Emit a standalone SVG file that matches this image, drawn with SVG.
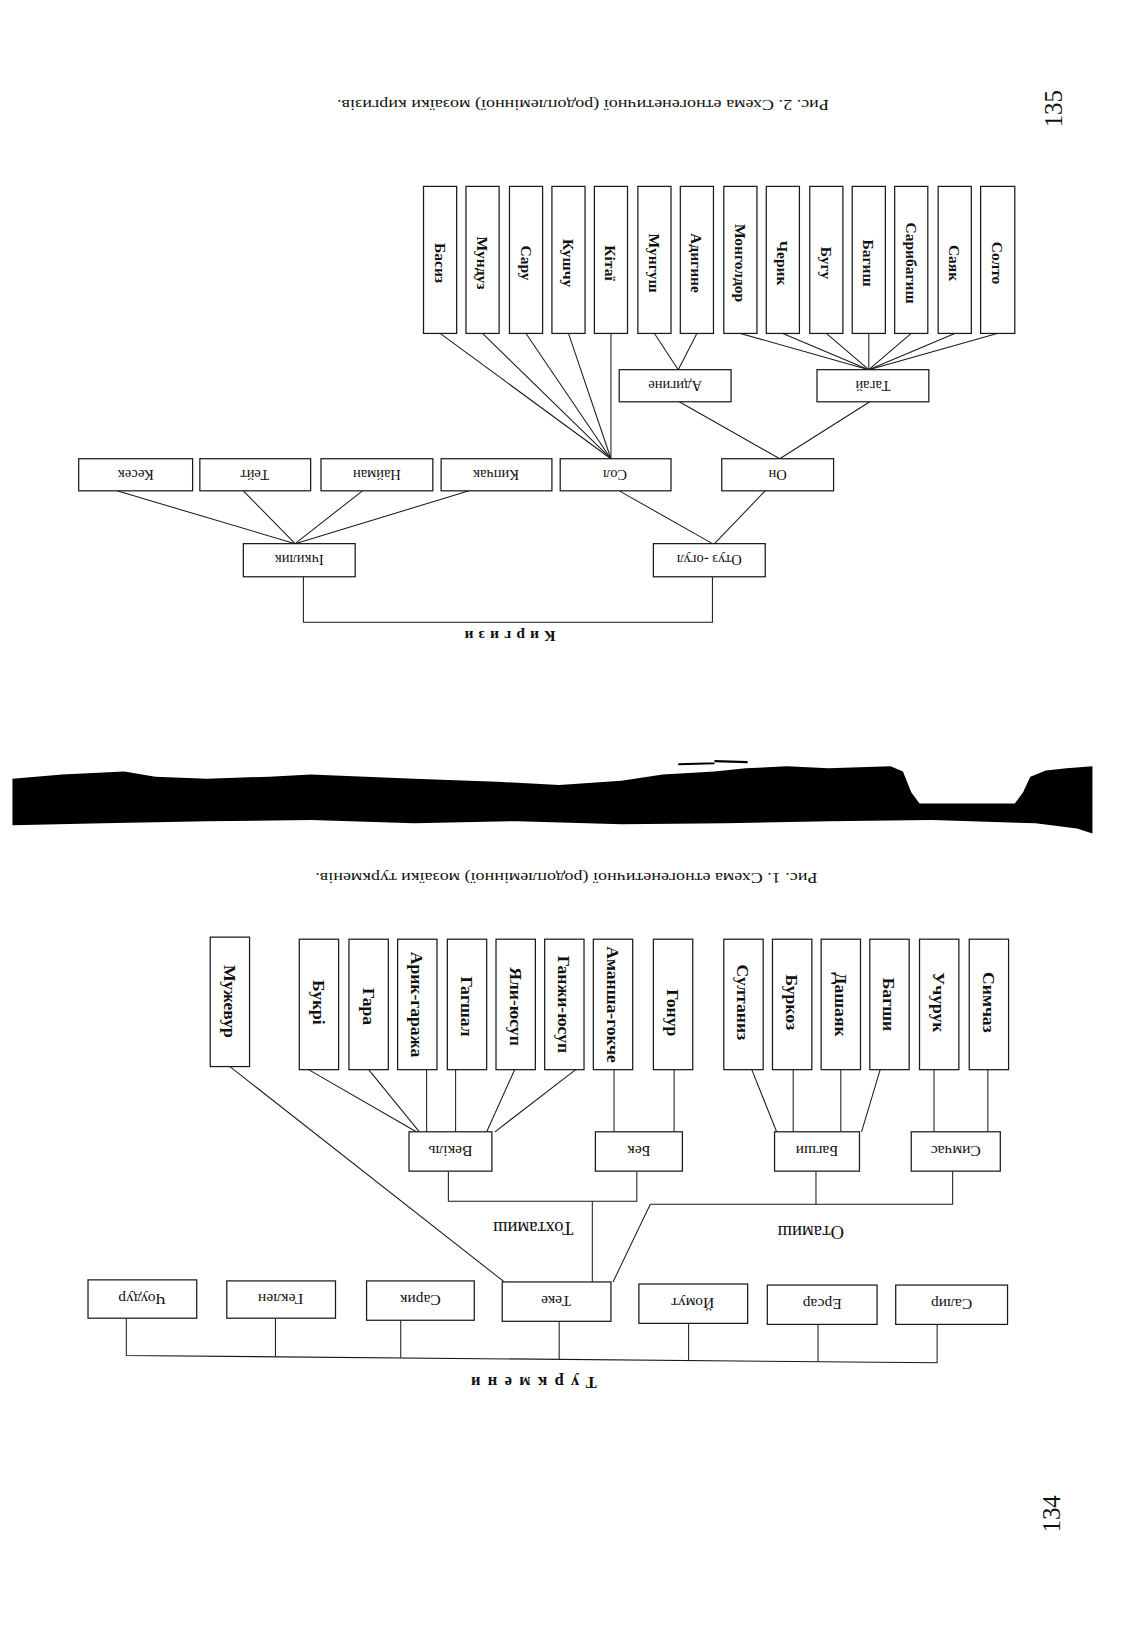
<svg xmlns="http://www.w3.org/2000/svg" width="1127" height="1626" viewBox="0 0 1127 1626">
<style>
.bx{fill:#fff;stroke:#1a1a1a;stroke-width:1.2}
.ln{fill:none;stroke:#1a1a1a;stroke-width:1}
.t{font-family:"Liberation Serif","Times New Roman",serif;fill:#111;text-anchor:middle;dominant-baseline:central}
.h2{font-size:14px}
.v2{font-size:15px;font-weight:bold}
.h1{font-size:15px}
.v1{font-size:17px;font-weight:bold}
.cap{font-size:15px}
.pg{font-size:24px}
</style>
<rect width="1127" height="1626" fill="#fff"/>
<g transform="scale(1.0355)">

<!-- page numbers and captions -->
<text class="t pg" transform="translate(1017,105) rotate(-90)">135</text>
<text class="t pg" transform="translate(1015,1462) rotate(-90)">134</text>
<text class="t cap" transform="translate(563,102) rotate(180)" textLength="475" lengthAdjust="spacingAndGlyphs">Рис. 2. Схема етногенетичної (родоплемінної) мозаїки киргизів.</text>
<text class="t cap" transform="translate(547,848) rotate(180)" textLength="485" lengthAdjust="spacingAndGlyphs">Рис. 1. Схема етногенетичної (родоплемінної) мозаїки туркменів.</text>

<!-- torn black band -->
<path d="M12,752 L60,748 L120,745 L150,750 L200,752 L260,750 L300,748 L400,752 L480,755 L540,758 L600,754 L640,748 L690,745 L720,742 L760,740 L800,742 L860,740 L872,745 L880,765 L888,776 L980,776 L988,765 L995,750 L1010,744 L1030,742 L1055,740 L1055,805 L1040,800 L1000,795 L900,792 L800,793 L700,795 L600,796 L500,793 L400,795 L300,792 L200,793 L100,795 L12,797 Z" fill="#000"/>
<path d="M655,738 L690,737 M690,735 L722,736" stroke="#000" stroke-width="2"/>

<!-- ===== Fig 2 connectors ===== -->
<g id="connectors-fig2" class="ln">
<line x1="425" y1="322" x2="590" y2="443"/>
<line x1="466" y1="322" x2="590" y2="443"/>
<line x1="508" y1="322" x2="590" y2="443"/>
<line x1="549" y1="322" x2="590" y2="443"/>
<line x1="590" y1="322" x2="590" y2="443"/>
<line x1="632" y1="322" x2="655" y2="357"/>
<line x1="673" y1="322" x2="655" y2="357"/>
<line x1="715" y1="322" x2="839" y2="357"/>
<line x1="756" y1="322" x2="839" y2="357"/>
<line x1="798" y1="322" x2="839" y2="357"/>
<line x1="839" y1="322" x2="839" y2="357"/>
<line x1="880" y1="322" x2="839" y2="357"/>
<line x1="922" y1="322" x2="839" y2="357"/>
<line x1="963" y1="322" x2="839" y2="357"/>
<line x1="656" y1="388" x2="753" y2="443"/>
<line x1="840" y1="388" x2="753" y2="443"/>
<line x1="113" y1="474" x2="285" y2="525"/>
<line x1="235" y1="474" x2="285" y2="525"/>
<line x1="350" y1="474" x2="285" y2="525"/>
<line x1="453" y1="474" x2="285" y2="525"/>
<line x1="598" y1="474" x2="688" y2="525"/>
<line x1="739" y1="474" x2="690" y2="525"/>
<polyline points="293,557 293,601 688,601 688,557"/>
</g>

<!-- Fig 2 tall boxes -->
<g id="kg-basyz"><rect class="bx" x="409" y="180" width="32" height="142"/><text class="t v2" transform="translate(425,254) rotate(90)">Басиз</text></g>
<g id="kg-munduz"><rect class="bx" x="450" y="180" width="32" height="142"/><text class="t v2" transform="translate(466,254) rotate(90)">Мундуз</text></g>
<g id="kg-saru"><rect class="bx" x="492" y="180" width="32" height="142"/><text class="t v2" transform="translate(508,254) rotate(90)">Сару</text></g>
<g id="kg-kushchu"><rect class="bx" x="533" y="180" width="32" height="142"/><text class="t v2" transform="translate(549,254) rotate(90)">Кушчу</text></g>
<g id="kg-kitai"><rect class="bx" x="574" y="180" width="32" height="142"/><text class="t v2" transform="translate(590,254) rotate(90)">Кітаї</text></g>
<g id="kg-mungush"><rect class="bx" x="616" y="180" width="32" height="142"/><text class="t v2" transform="translate(632,254) rotate(90)">Мунгуш</text></g>
<g id="kg-adygine-t"><rect class="bx" x="657" y="180" width="32" height="142"/><text class="t v2" transform="translate(673,254) rotate(90)">Адигине</text></g>
<g id="kg-mongoldor"><rect class="bx" x="699" y="180" width="32" height="142"/><text class="t v2" transform="translate(715,254) rotate(90)">Монголдор</text></g>
<g id="kg-cheryk"><rect class="bx" x="740" y="180" width="32" height="142"/><text class="t v2" transform="translate(756,254) rotate(90)">Черик</text></g>
<g id="kg-bugu"><rect class="bx" x="782" y="180" width="32" height="142"/><text class="t v2" transform="translate(798,254) rotate(90)">Бугу</text></g>
<g id="kg-bagysh"><rect class="bx" x="823" y="180" width="32" height="142"/><text class="t v2" transform="translate(839,254) rotate(90)">Багиш</text></g>
<g id="kg-sarybagysh"><rect class="bx" x="864" y="180" width="32" height="142"/><text class="t v2" transform="translate(880,254) rotate(90)">Сарибагиш</text></g>
<g id="kg-sayak"><rect class="bx" x="906" y="180" width="32" height="142"/><text class="t v2" transform="translate(922,254) rotate(90)">Саяк</text></g>
<g id="kg-solto"><rect class="bx" x="947" y="180" width="33" height="142"/><text class="t v2" transform="translate(963,254) rotate(90)">Солто</text></g>

<!-- Fig 2 horizontal boxes -->
<g id="kg-adygine"><rect class="bx" x="598" y="357" width="108" height="31"/><text class="t h2" transform="translate(652,373) rotate(180)">Адигине</text></g>
<g id="kg-tagai"><rect class="bx" x="789" y="357" width="108" height="31"/><text class="t h2" transform="translate(843,373) rotate(180)">Тагай</text></g>
<g id="kg-kesek"><rect class="bx" x="76" y="443" width="110" height="31"/><text class="t h2" transform="translate(131,459) rotate(180)">Кесек</text></g>
<g id="kg-teit"><rect class="bx" x="193" y="443" width="107" height="31"/><text class="t h2" transform="translate(246,459) rotate(180)">Тейт</text></g>
<g id="kg-naiman"><rect class="bx" x="310" y="443" width="108" height="31"/><text class="t h2" transform="translate(364,459) rotate(180)">Найман</text></g>
<g id="kg-kypchak"><rect class="bx" x="426" y="443" width="107" height="31"/><text class="t h2" transform="translate(479,459) rotate(180)">Кипчак</text></g>
<g id="kg-sol"><rect class="bx" x="541" y="443" width="107" height="31"/><text class="t h2" transform="translate(594,459) rotate(180)">Сол</text></g>
<g id="kg-on"><rect class="bx" x="697" y="443" width="108" height="31"/><text class="t h2" transform="translate(751,459) rotate(180)">Он</text></g>
<g id="kg-ichkilik"><rect class="bx" x="235" y="525" width="108" height="32"/><text class="t h2" transform="translate(289,541) rotate(180)">Ічкилик</text></g>
<g id="kg-otuz-ogul"><rect class="bx" x="631" y="525" width="108" height="32"/><text class="t h2" transform="translate(685,541) rotate(180)">Отуз -огул</text></g>
<text class="t" style="font-size:15px;font-weight:bold;letter-spacing:5px" transform="translate(490,615) rotate(180)">Киргизи</text>

<!-- ===== Fig 1 connectors ===== -->
<g id="connectors-fig1" class="ln">
<line x1="222" y1="1030" x2="487" y2="1238"/>
<line x1="298" y1="1033" x2="402" y2="1093"/>
<line x1="356" y1="1033" x2="405" y2="1093"/>
<line x1="412" y1="1033" x2="412" y2="1093"/>
<line x1="440" y1="1033" x2="440" y2="1093"/>
<line x1="497" y1="1033" x2="470" y2="1093"/>
<line x1="556" y1="1033" x2="478" y2="1093"/>
<line x1="593" y1="1033" x2="593" y2="1093"/>
<line x1="651" y1="1033" x2="651" y2="1093"/>
<line x1="726" y1="1033" x2="750" y2="1093"/>
<line x1="766" y1="1033" x2="766" y2="1093"/>
<line x1="812" y1="1033" x2="812" y2="1093"/>
<line x1="850" y1="1033" x2="832" y2="1093"/>
<line x1="902" y1="1033" x2="902" y2="1093"/>
<line x1="954" y1="1033" x2="954" y2="1093"/>
<polyline points="433,1131 433,1160 615,1160 615,1131"/>
<line x1="572" y1="1160" x2="572" y2="1238"/>
<polyline points="788,1131 788,1163"/>
<polyline points="592,1238 628,1163 920,1163 920,1131"/>
<polyline points="122,1273 122,1309 905,1316 905,1279"/>
<line x1="266" y1="1273" x2="266" y2="1310"/>
<line x1="387" y1="1275" x2="387" y2="1311"/>
<line x1="540" y1="1276" x2="540" y2="1313"/>
<line x1="665" y1="1278" x2="665" y2="1314"/>
<line x1="790" y1="1279" x2="790" y2="1315"/>
</g>

<!-- Fig 1 tall boxes -->
<g id="tk-muzhevur"><rect class="bx" x="203" y="905" width="38" height="125"/><text class="t v1" transform="translate(222,967) rotate(90)">Мужевур</text></g>
<g id="tk-bukri"><rect class="bx" x="289" y="907" width="38" height="126"/><text class="t v1" transform="translate(308,968) rotate(90)">Букрі</text></g>
<g id="tk-gara"><rect class="bx" x="337" y="907" width="38" height="126"/><text class="t v1" transform="translate(356,972) rotate(90)">Гара</text></g>
<g id="tk-aryk"><rect class="bx" x="384" y="907" width="38" height="126"/><text class="t v1" transform="translate(403,970) rotate(90)">Арик-гаража</text></g>
<g id="tk-gagshal"><rect class="bx" x="432" y="907" width="38" height="126"/><text class="t v1" transform="translate(451,972) rotate(90)">Гагшал</text></g>
<g id="tk-yaly"><rect class="bx" x="479" y="907" width="38" height="126"/><text class="t v1" transform="translate(498,972) rotate(90)">Яли-юсуп</text></g>
<g id="tk-ganzhy"><rect class="bx" x="526" y="907" width="38" height="126"/><text class="t v1" transform="translate(545,970) rotate(90)">Ганжи-юсуп</text></g>
<g id="tk-amansha"><rect class="bx" x="573" y="907" width="38" height="126"/><text class="t v1" transform="translate(592,970) rotate(90)">Аманша-гокче</text></g>
<g id="tk-gonur"><rect class="bx" x="631" y="907" width="38" height="126"/><text class="t v1" transform="translate(650,978) rotate(90)">Гонур</text></g>
<g id="tk-sultaniz"><rect class="bx" x="699" y="907" width="38" height="126"/><text class="t v1" transform="translate(718,968) rotate(90)">Султаниз</text></g>
<g id="tk-burkoz"><rect class="bx" x="746" y="907" width="38" height="126"/><text class="t v1" transform="translate(765,968) rotate(90)">Буркоз</text></g>
<g id="tk-dashayak"><rect class="bx" x="793" y="907" width="38" height="126"/><text class="t v1" transform="translate(812,970) rotate(90)">Дашаяк</text></g>
<g id="tk-bagshy-t"><rect class="bx" x="840" y="907" width="38" height="126"/><text class="t v1" transform="translate(859,970) rotate(90)">Багши</text></g>
<g id="tk-uchuruk"><rect class="bx" x="888" y="907" width="38" height="126"/><text class="t v1" transform="translate(907,968) rotate(90)">Учурук</text></g>
<g id="tk-simchaz"><rect class="bx" x="936" y="907" width="38" height="126"/><text class="t v1" transform="translate(955,968) rotate(90)">Симчаз</text></g>

<!-- Fig 1 mid boxes -->
<g id="tk-vekil"><rect class="bx" x="395" y="1093" width="80" height="38"/><text class="t h1" transform="translate(435,1112) rotate(180)">Векіль</text></g>
<g id="tk-bek"><rect class="bx" x="575" y="1093" width="84" height="38"/><text class="t h1" transform="translate(617,1112) rotate(180)">Бек</text></g>
<g id="tk-bagshy"><rect class="bx" x="748" y="1093" width="82" height="38"/><text class="t h1" transform="translate(789,1112) rotate(180)">Багши</text></g>
<g id="tk-simchas"><rect class="bx" x="880" y="1093" width="86" height="38"/><text class="t h1" transform="translate(923,1112) rotate(180)">Симчас</text></g>
<text class="t" style="font-size:18px" transform="translate(515,1186) rotate(180)">Тохтамиш</text>
<text class="t" style="font-size:18px" transform="translate(783,1190) rotate(180)">Отамиш</text>

<!-- Fig 1 bottom boxes -->
<g id="tk-choudur"><rect class="bx" x="85" y="1236" width="105" height="37"/><text class="t h1" transform="translate(137,1255) rotate(180)">Чоудур</text></g>
<g id="tk-geklen"><rect class="bx" x="219" y="1237" width="105" height="36"/><text class="t h1" transform="translate(271,1255) rotate(180)">Геклен</text></g>
<g id="tk-saryk"><rect class="bx" x="354" y="1237" width="104" height="38"/><text class="t h1" transform="translate(406,1256) rotate(180)">Сарик</text></g>
<g id="tk-teke"><rect class="bx" x="485" y="1238" width="105" height="38"/><text class="t h1" transform="translate(537,1257) rotate(180)">Теке</text></g>
<g id="tk-yomut"><rect class="bx" x="617" y="1240" width="105" height="38"/><text class="t h1" transform="translate(669,1259) rotate(180)">Йомут</text></g>
<g id="tk-ersar"><rect class="bx" x="741" y="1241" width="106" height="38"/><text class="t h1" transform="translate(794,1260) rotate(180)">Ерсар</text></g>
<g id="tk-salyr"><rect class="bx" x="865" y="1241" width="108" height="38"/><text class="t h1" transform="translate(919,1260) rotate(180)">Салир</text></g>
<text class="t" style="font-size:16px;font-weight:bold;letter-spacing:7px" transform="translate(512,1335) rotate(180)">Туркмени</text>
</g>
</svg>
